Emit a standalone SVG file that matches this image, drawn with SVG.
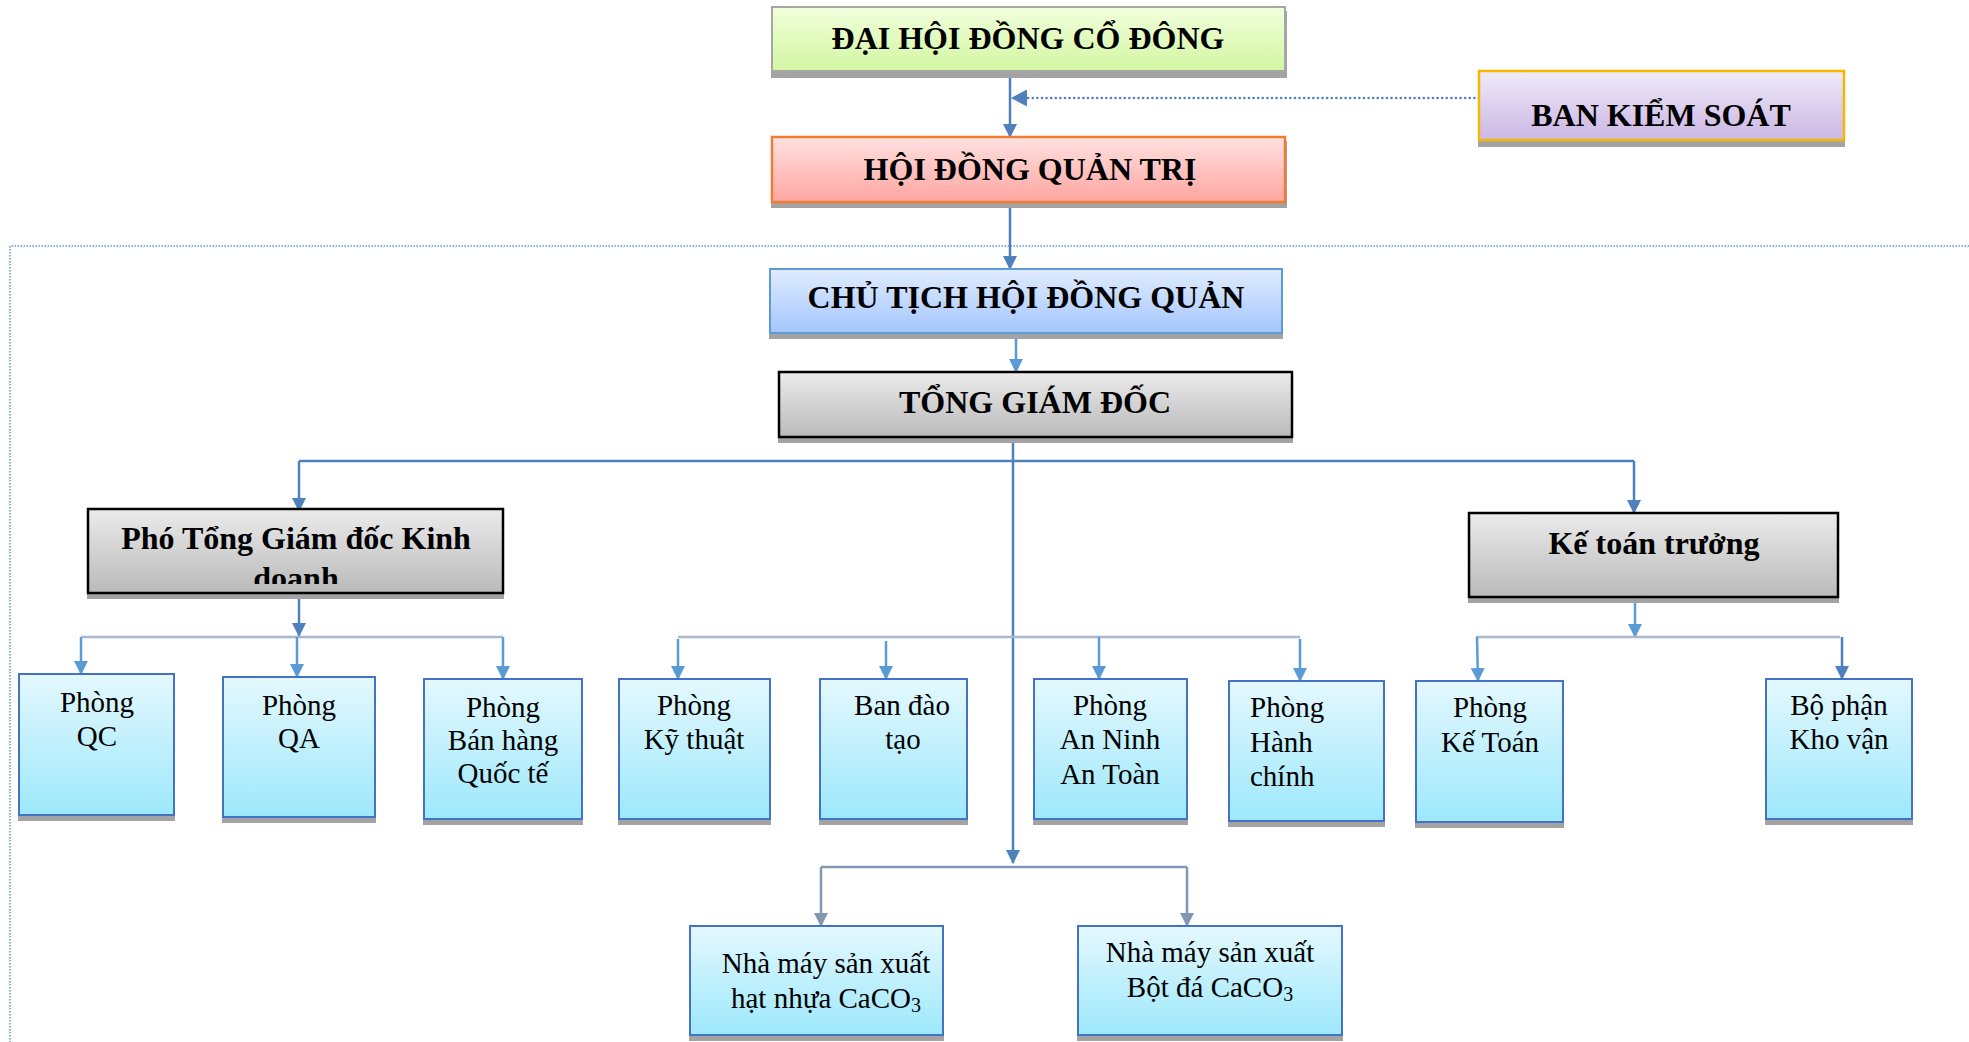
<svg xmlns="http://www.w3.org/2000/svg" width="1969" height="1042" viewBox="0 0 1969 1042">
<style>
.sh{fill:#a3a3a3}
.tb{font-family:"Liberation Serif","Times New Roman",serif;font-weight:bold;font-size:32px;fill:#000;text-anchor:middle}
.t{font-family:"Liberation Serif","Times New Roman",serif;font-size:29px;fill:#000;text-anchor:middle}
.tl{font-family:"Liberation Serif","Times New Roman",serif;font-size:29px;fill:#000}
.dep{fill:url(#gDep);stroke:#4472c4;stroke-width:2}
.gray{fill:url(#gGray);stroke:#000;stroke-width:2.5}
.cD{stroke:#4f81bd;stroke-width:2.5;fill:none}
.cL{stroke:#5b9bd5;stroke-width:2.5;fill:none}
.cB{stroke:#a7b8cf;stroke-width:2.5;fill:none}
.cG{stroke:#8497b0;stroke-width:2.5;fill:none}
.mD{marker-end:url(#aD)}
.mL{marker-end:url(#aL)}
.mG{marker-end:url(#aG)}
</style>
<defs>
<linearGradient id="gGreen" x1="0" y1="0" x2="0" y2="1"><stop offset="0" stop-color="#f1ffdc"/><stop offset="1" stop-color="#d3f6a2"/></linearGradient>
<linearGradient id="gRed" x1="0" y1="0" x2="0" y2="1"><stop offset="0" stop-color="#ffe2e2"/><stop offset="1" stop-color="#ffa5a0"/></linearGradient>
<linearGradient id="gPurple" x1="0" y1="0" x2="0" y2="1"><stop offset="0" stop-color="#f0eaf8"/><stop offset="1" stop-color="#cbb7e4"/></linearGradient>
<linearGradient id="gBlue" x1="0" y1="0" x2="0" y2="1"><stop offset="0" stop-color="#e0ecff"/><stop offset="1" stop-color="#a4c6ff"/></linearGradient>
<linearGradient id="gGray" x1="0" y1="0" x2="0" y2="1"><stop offset="0" stop-color="#ebebeb"/><stop offset="1" stop-color="#bababa"/></linearGradient>
<linearGradient id="gDep" x1="0" y1="0" x2="0" y2="1"><stop offset="0" stop-color="#e4f8fe"/><stop offset="1" stop-color="#9de8fc"/></linearGradient>
<marker id="aD" viewBox="0 0 14 14" refX="13" refY="7" markerWidth="14" markerHeight="14" markerUnits="userSpaceOnUse" orient="auto"><path d="M0,0 L14,7 L0,14 z" fill="#4f81bd"/></marker>
<marker id="aL" viewBox="0 0 14 14" refX="13" refY="7" markerWidth="14" markerHeight="14" markerUnits="userSpaceOnUse" orient="auto"><path d="M0,0 L14,7 L0,14 z" fill="#5b9bd5"/></marker>
<marker id="aG" viewBox="0 0 14 14" refX="13" refY="7" markerWidth="14" markerHeight="14" markerUnits="userSpaceOnUse" orient="auto"><path d="M0,0 L14,7 L0,14 z" fill="#8497b0"/></marker>
<marker id="aBig" viewBox="0 0 16 17" refX="15" refY="8.5" markerWidth="16" markerHeight="17" markerUnits="userSpaceOnUse" orient="auto"><path d="M0,0 L16,8.5 L0,17 z" fill="#4f81bd"/></marker>
<clipPath id="clipPho"><rect x="89" y="510" width="413" height="74"/></clipPath>
</defs>
<rect width="1969" height="1042" fill="#fff"/>

<g id="frame">
<path d="M1969,246 H10 V1042" fill="none" stroke="#5b9bd5" stroke-width="1.5" stroke-dasharray="1.5 1.5"/>
</g>

<g id="connectors">
<line class="cD mD" x1="1010" y1="77" x2="1010" y2="137"/>
<line x1="1479" y1="98" x2="1012" y2="98" stroke="#4f81bd" stroke-width="2.5" stroke-dasharray="0.1 4.5" stroke-linecap="round" marker-end="url(#aBig)"/>
<line class="cD mD" x1="1010" y1="202" x2="1010" y2="269"/>
<line class="cL mL" x1="1016" y1="338" x2="1016" y2="372"/>
<line class="cD mD" x1="1013" y1="437" x2="1013" y2="863"/>
<path class="cD" d="M299,461 H1634"/>
<line class="cD mD" x1="299" y1="461" x2="299" y2="511"/>
<line class="cD mD" x1="1634" y1="461" x2="1634" y2="513"/>
<line class="cD mD" x1="299" y1="597" x2="299" y2="636"/>
<path class="cB" d="M81,637 H503"/>
<line class="cL mL" x1="81" y1="637" x2="81" y2="674"/>
<line class="cL mL" x1="297" y1="637" x2="297" y2="677"/>
<line class="cL mL" x1="503" y1="637" x2="503" y2="679"/>
<path class="cB" d="M678,637 H1300"/>
<line class="cL mL" x1="678" y1="639" x2="678" y2="679"/>
<line class="cL mL" x1="886" y1="641" x2="886" y2="679"/>
<line class="cL mL" x1="1099" y1="637" x2="1099" y2="679"/>
<line class="cL mL" x1="1300" y1="639" x2="1300" y2="681"/>
<line class="cL mL" x1="1635" y1="602" x2="1635" y2="637"/>
<path class="cB" d="M1476,637 H1840"/>
<line class="cL mL" x1="1477" y1="637" x2="1478" y2="681"/>
<line class="cD mD" x1="1842" y1="637" x2="1842" y2="679"/>
<path class="cG mG" d="M821,867 V926"/>
<path class="cG" d="M821,867 H1187"/>
<path class="cG mG" d="M1187,867 V926"/>
</g>

<g id="n-dhdcd">
<rect class="sh" x="771" y="11" width="516" height="67"/>
<rect x="772" y="7" width="513" height="64" fill="url(#gGreen)" stroke="#a6a6a6" stroke-width="2"/>
<text class="tb" x="1028" y="49">ĐẠI HỘI ĐỒNG CỔ ĐÔNG</text>
</g>

<g id="n-bks">
<rect class="sh" x="1478" y="75" width="367" height="72"/>
<rect x="1479" y="71" width="365" height="69" fill="url(#gPurple)" stroke="#f5b800" stroke-width="2.5"/>
<text class="tb" x="1661" y="126">BAN KIỂM SOÁT</text>
</g>

<g id="n-hdqt">
<rect class="sh" x="771" y="141" width="516" height="67"/>
<rect x="772" y="137" width="513" height="65" fill="url(#gRed)" stroke="#ed7d31" stroke-width="2.5"/>
<text class="tb" x="1030" y="180">HỘI ĐỒNG QUẢN TRỊ</text>
</g>

<g id="n-ct">
<rect class="sh" x="769" y="273" width="514" height="66"/>
<rect x="770" y="269" width="512" height="64" fill="url(#gBlue)" stroke="#5b9bd5" stroke-width="2"/>
<text class="tb" x="1026" y="308">CHỦ TỊCH HỘI ĐỒNG QUẢN</text>
</g>

<g id="n-tgd">
<rect class="sh" x="778" y="376" width="515" height="67"/>
<rect class="gray" x="779" y="372" width="513" height="65"/>
<text class="tb" x="1035" y="413">TỔNG GIÁM ĐỐC</text>
</g>

<g id="n-pho">
<rect class="sh" x="87" y="513" width="417" height="86"/>
<rect class="gray" x="88" y="509" width="415" height="84"/>
<text class="tb" clip-path="url(#clipPho)"><tspan x="296" y="549">Phó Tổng Giám đốc Kinh</tspan><tspan x="296" y="589">doanh</tspan></text>
</g>

<g id="n-ktt">
<rect class="sh" x="1468" y="517" width="371" height="86"/>
<rect class="gray" x="1469" y="513" width="369" height="84"/>
<text class="tb" x="1654" y="554">Kế toán trưởng</text>
</g>

<g id="n-qc">
<rect class="sh" x="18" y="678" width="157" height="143"/>
<rect class="dep" x="19" y="674" width="155" height="141"/>
<text class="t"><tspan x="97" y="712">Phòng</tspan><tspan x="97" y="746">QC</tspan></text>
</g>

<g id="n-qa">
<rect class="sh" x="222" y="681" width="154" height="142"/>
<rect class="dep" x="223" y="677" width="152" height="140"/>
<text class="t"><tspan x="299" y="715">Phòng</tspan><tspan x="299" y="748">QA</tspan></text>
</g>

<g id="n-banhang">
<rect class="sh" x="423" y="683" width="160" height="142"/>
<rect class="dep" x="424" y="679" width="158" height="140"/>
<text class="t"><tspan x="503" y="717">Phòng</tspan><tspan x="503" y="750">Bán hàng</tspan><tspan x="503" y="783">Quốc tế</tspan></text>
</g>

<g id="n-kythuat">
<rect class="sh" x="618" y="683" width="153" height="142"/>
<rect class="dep" x="619" y="679" width="151" height="140"/>
<text class="t"><tspan x="694" y="715">Phòng</tspan><tspan x="694" y="749">Kỹ thuật</tspan></text>
</g>

<g id="n-daotao">
<rect class="sh" x="819" y="683" width="149" height="142"/>
<rect class="dep" x="820" y="679" width="147" height="140"/>
<text class="t"><tspan x="902" y="715">Ban đào</tspan><tspan x="903" y="749">tạo</tspan></text>
</g>

<g id="n-anninh">
<rect class="sh" x="1033" y="683" width="155" height="142"/>
<rect class="dep" x="1034" y="679" width="153" height="140"/>
<text class="t"><tspan x="1110" y="715">Phòng</tspan><tspan x="1110" y="749">An Ninh</tspan><tspan x="1110" y="784">An Toàn</tspan></text>
</g>

<g id="n-hanhchinh">
<rect class="sh" x="1228" y="685" width="157" height="142"/>
<rect class="dep" x="1229" y="681" width="155" height="140"/>
<text class="tl"><tspan x="1250" y="717">Phòng</tspan><tspan x="1250" y="752">Hành</tspan><tspan x="1250" y="786">chính</tspan></text>
</g>

<g id="n-ketoan">
<rect class="sh" x="1415" y="685" width="149" height="143"/>
<rect class="dep" x="1416" y="681" width="147" height="141"/>
<text class="t"><tspan x="1490" y="717">Phòng</tspan><tspan x="1490" y="752">Kế Toán</tspan></text>
</g>

<g id="n-khovan">
<rect class="sh" x="1765" y="683" width="148" height="142"/>
<rect class="dep" x="1766" y="679" width="146" height="140"/>
<text class="t"><tspan x="1839" y="715">Bộ phận</tspan><tspan x="1839" y="749">Kho vận</tspan></text>
</g>

<g id="n-nm1">
<rect class="sh" x="689" y="930" width="255" height="111"/>
<rect class="dep" x="690" y="926" width="253" height="109"/>
<text class="t"><tspan x="826" y="973">Nhà máy sản xuất</tspan><tspan x="826" y="1008">hạt nhựa CaCO<tspan font-size="20" dy="4">3</tspan></tspan></text>
</g>

<g id="n-nm2">
<rect class="sh" x="1077" y="930" width="266" height="111"/>
<rect class="dep" x="1078" y="926" width="264" height="109"/>
<text class="t"><tspan x="1210" y="962">Nhà máy sản xuất</tspan><tspan x="1210" y="997">Bột đá CaCO<tspan font-size="20" dy="4">3</tspan></tspan></text>
</g>
</svg>
